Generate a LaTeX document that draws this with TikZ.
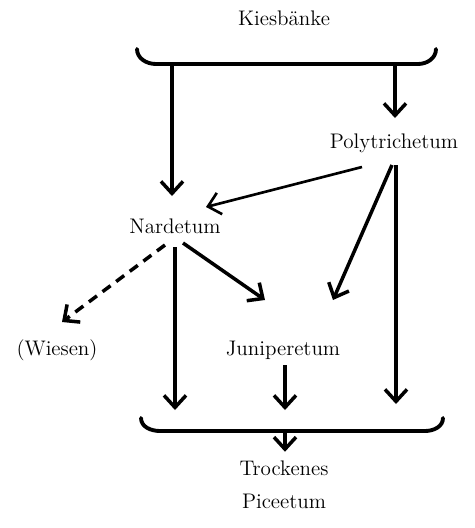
\documentclass[tikz,border=0pt]{standalone}
\usepackage{tikz}
\usetikzlibrary{arrows.meta, positioning, calc}

\begin{document}
\begin{tikzpicture}[
        x=0.02cm, y=-0.02cm,
        word/.style={font=\large, align=center, inner sep=2pt},
        arrow/.style={line width=2pt, -{Straight Barb[length=2.4mm, width=4.4mm]}},
        thinarrow/.style={arrow, line width=1.5pt},
        brace/.style={line width=2.2pt, line cap=round}
    ]
        \useasboundingbox (0,0) rectangle (474,528);

        % Communities
        \node (kies) [word] at (284,18) {Kiesbänke};
        \node (poly) [word] at (394,143) {Polytrichetum};
        \node (nard) [word] at (175,226) {Nardetum};
        \node (wiesen) [word] at (57,350) {(Wiesen)};
        \node (juni) [word] at (283,350) {Juniperetum};
        \node (picea) [word] at (284,485) {Trockenes\\[5pt]Piceetum};

        % Braces
        \draw [brace] (137,49) to[out=-90, in=180] (156,64) -- (418,64) to[out=0, in=-90] (436,49);
        \draw [brace] (141,418) to[out=-90, in=180] (160,431) -- (425,431) to[out=0, in=-90] (443,418);
        \coordinate (topL) at (172,66);
        \coordinate (topR) at (395,66);
        \coordinate (botL) at (175,410);
        \coordinate (botM) at (285,410);
        \coordinate (botR) at (396,404);
        \coordinate (botC) at (285,433);

        % Flows from the gravel banks
        \draw [arrow] (topL) -- ([shift={(-3,-30)}]nard.center);
        \draw [arrow] (topR) -- ([shift={(1,-25)}]poly.center);

        % Flows from Polytrichetum
        \draw [thinarrow] ([shift={(-32,24)}]poly.center) -- ([shift={(31,-19)}]nard.center);
        \draw [arrow] ([shift={(-2,22)}]poly.center) -- ([shift={(50,-50)}]juni.center);
        \draw [arrow] ([shift={(2,22)}]poly.center) -- (botR);

        % Flows from Nardetum
        \draw [arrow] ([shift={(0,21)}]nard.center) -- (botL);
        \draw [arrow] ([shift={(8,17)}]nard.center) -- ([shift={(-18,-50)}]juni.center);
        \draw [arrow, dash pattern=on 2mm off 1.4mm] ([shift={(-10,19)}]nard.center) -- ([shift={(5,-28)}]wiesen.center);

        % Into the dry spruce forest
        \draw [arrow] ([shift={(2,15)}]juni.center) -- (botM);
        \draw [arrow] (botC) -- ([yshift=3pt]botC |- picea.north);
    \end{tikzpicture}
\end{document}
